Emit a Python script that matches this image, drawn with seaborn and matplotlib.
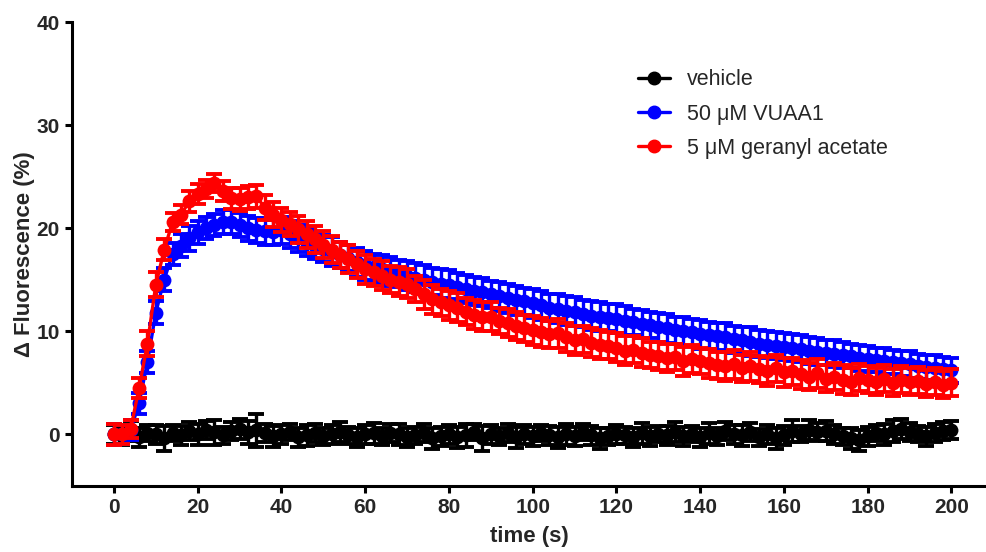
import numpy as np
import pandas as pd
import matplotlib
matplotlib.use("Agg")
import matplotlib.pyplot as plt
import seaborn as sns
from matplotlib.lines import Line2D

time_s = list(range(0, 201, 2))

vehicle_mean = [0.0, -0.2, 0.3, -0.3, 0.1, 0.0, -0.4, 0.1, -0.1, 0.3,
                0.0, 0.4, 0.2, -0.1, 0.3, 0.5, 0.2, 0.4, 0.1, -0.2,
                0.0, 0.2, -0.3, -0.1, 0.1, -0.2, 0.0, 0.2, -0.1, -0.3,
                0.0, 0.1, -0.2, 0.1, 0.0, -0.3, -0.1, 0.1, -0.4, -0.2,
                0.0, -0.3, -0.1, 0.2, -0.4, 0.0, -0.2, 0.1, -0.3, 0.0,
                -0.2, 0.1, -0.1, -0.3, 0.0, -0.2, 0.2, -0.1, -0.4, -0.2,
                0.0, -0.1, -0.3, 0.1, -0.2, 0.0, -0.1, 0.2, -0.2, 0.0,
                -0.3, 0.1, -0.2, 0.3, 0.0, -0.1, 0.2, -0.3, 0.0, -0.4,
                -0.1, 0.3, 0.0, 0.4, 0.2, 0.3, 0.0, -0.2, -0.4, -0.6,
                -0.2, 0.1, 0.0, 0.3, 0.5, 0.2, 0.0, -0.2, 0.1, 0.3, 0.4]
vehicle_sem = [0.9, 0.8, 1.0, 0.9, 0.8, 0.9, 1.2, 0.8, 0.9, 0.9,
               1.0, 0.9, 1.2, 0.8, 0.9, 1.0, 1.1, 1.6, 0.9, 1.0,
               0.9, 0.8, 0.9, 1.0, 0.9, 0.8, 0.9, 1.0, 0.8, 0.9,
               0.9, 1.0, 0.8, 0.9, 1.0, 0.9, 0.8, 0.9, 1.0, 0.9,
               0.9, 1.0, 1.1, 0.8, 1.2, 0.9, 0.8, 0.9, 1.0, 0.9,
               0.9, 0.8, 0.9, 1.0, 1.0, 0.9, 0.8, 0.9, 1.0, 0.8,
               0.9, 0.8, 0.9, 1.0, 0.9, 0.8, 0.9, 1.0, 0.9, 0.8,
               0.9, 1.0, 0.8, 0.9, 0.9, 1.0, 0.9, 0.8, 0.9, 1.0,
               0.9, 1.1, 0.8, 1.0, 0.9, 1.0, 0.9, 0.8, 1.0, 1.0,
               0.9, 0.8, 1.0, 1.1, 1.0, 0.9, 0.8, 0.9, 0.9, 0.9, 0.9]

vuaa1_mean = [0.0, 0.0, 0.4, 3.0, 7.0, 11.8, 15.0, 17.5, 18.3, 19.0,
              19.6, 20.0, 20.3, 20.6, 20.6, 20.3, 20.0, 19.8, 19.7, 19.6,
              19.8, 19.4, 19.0, 18.6, 18.3, 18.0, 17.7, 17.4, 17.1, 16.7,
              16.4, 16.2, 16.0, 15.8, 15.6, 15.4, 15.2, 15.0, 14.8, 14.6,
              14.5, 14.3, 14.1, 13.9, 13.8, 13.6, 13.4, 13.2, 13.0, 12.9,
              12.7, 12.5, 12.3, 12.2, 12.0, 11.9, 11.7, 11.5, 11.4, 11.3,
              11.2, 11.0, 10.9, 10.7, 10.6, 10.4, 10.3, 10.1, 10.0, 9.9,
              9.7, 9.6, 9.5, 9.4, 9.2, 9.1, 9.0, 8.8, 8.7, 8.6,
              8.5, 8.4, 8.3, 8.1, 8.0, 7.9, 7.8, 7.7, 7.6, 7.4,
              7.3, 7.2, 7.1, 7.0, 6.9, 6.8, 6.6, 6.5, 6.4, 6.3, 6.2]
vuaa1_sem = [1.0, 0.9, 1.0, 1.0, 1.1, 1.1, 1.1, 1.1, 1.1, 1.2,
             1.1, 1.1, 1.1, 1.2, 1.2, 1.2, 1.2, 1.2, 1.3, 1.2,
             1.3, 1.3, 1.3, 1.3, 1.3, 1.3, 1.4, 1.3, 1.3, 1.4,
             1.4, 1.3, 1.4, 1.4, 1.3, 1.4, 1.4, 1.4, 1.3, 1.4,
             1.4, 1.3, 1.4, 1.4, 1.4, 1.3, 1.4, 1.4, 1.4, 1.3,
             1.4, 1.4, 1.3, 1.4, 1.4, 1.4, 1.3, 1.4, 1.4, 1.3,
             1.4, 1.4, 1.3, 1.4, 1.3, 1.4, 1.4, 1.3, 1.4, 1.3,
             1.4, 1.3, 1.3, 1.4, 1.3, 1.3, 1.4, 1.3, 1.3, 1.3,
             1.3, 1.3, 1.3, 1.3, 1.3, 1.2, 1.3, 1.3, 1.2, 1.3,
             1.3, 1.2, 1.3, 1.2, 1.2, 1.3, 1.2, 1.2, 1.3, 1.2, 1.2]

geranyl_mean = [0.0, 0.0, 0.5, 4.5, 8.8, 14.5, 17.9, 20.6, 21.3, 22.6,
                23.3, 23.8, 24.4, 23.6, 22.9, 22.8, 23.0, 23.1, 22.0, 21.3,
                20.8, 20.4, 19.9, 19.4, 18.9, 18.4, 17.9, 17.4, 17.0, 16.5,
                16.0, 15.7, 15.4, 15.0, 14.8, 14.6, 14.1, 13.6, 13.1, 12.8,
                12.5, 12.3, 11.9, 11.6, 11.4, 11.4, 11.0, 10.8, 10.5, 10.3,
                10.1, 9.9, 9.7, 9.8, 9.4, 9.1, 9.2, 8.9, 8.7, 8.6,
                8.4, 8.1, 8.2, 7.9, 7.7, 7.6, 7.4, 7.5, 7.1, 7.3,
                7.1, 6.9, 6.7, 6.6, 6.8, 6.4, 6.6, 6.3, 6.1, 6.4,
                6.0, 6.1, 5.8, 5.6, 5.9, 5.4, 5.6, 5.3, 5.1, 5.5,
                5.3, 5.1, 5.4, 5.0, 5.3, 5.1, 5.2, 4.9, 5.1, 4.8, 5.0]
geranyl_sem = [1.0, 0.9, 0.9, 1.0, 1.2, 1.2, 1.0, 0.9, 0.9, 1.0,
               1.0, 0.9, 0.9, 1.0, 1.0, 1.1, 1.1, 1.1, 1.2, 1.2,
               1.2, 1.2, 1.3, 1.3, 1.3, 1.3, 1.3, 1.3, 1.4, 1.3,
               1.4, 1.3, 1.4, 1.3, 1.4, 1.4, 1.3, 1.4, 1.4, 1.3,
               1.4, 1.4, 1.3, 1.4, 1.4, 1.4, 1.3, 1.4, 1.4, 1.3,
               1.4, 1.4, 1.3, 1.4, 1.4, 1.4, 1.3, 1.4, 1.4, 1.3,
               1.4, 1.4, 1.3, 1.4, 1.3, 1.4, 1.4, 1.3, 1.4, 1.4,
               1.3, 1.4, 1.3, 1.4, 1.4, 1.3, 1.4, 1.3, 1.4, 1.3,
               1.4, 1.3, 1.4, 1.3, 1.4, 1.3, 1.3, 1.4, 1.3, 1.3,
               1.3, 1.3, 1.3, 1.3, 1.3, 1.3, 1.3, 1.3, 1.3, 1.3, 1.3]

labels = ["vehicle", "50 \u03bcM VUAA1", "5 \u03bcM geranyl acetate"]
colors = ["#000000", "#0000ff", "#ff0000"]
x_ticks = list(range(0, 201, 20))
y_ticks = [0, 10, 20, 30, 40]

sns.set_style("ticks")
plt.rcParams["font.family"] = ["Liberation Sans", "DejaVu Sans"]

frames = []
for lab, m, s in zip(labels, [vehicle_mean, vuaa1_mean, geranyl_mean],
                     [vehicle_sem, vuaa1_sem, geranyl_sem]):
    frames.append(pd.DataFrame({"time": time_s, "value": m, "sem": s, "group": lab}))
df = pd.concat(frames, ignore_index=True)

fig = plt.figure(figsize=(9.87, 5.52), dpi=100)
ax = fig.add_axes([0.073, 0.12, 0.927, 0.84])

for i, (lab, col) in enumerate(zip(labels, colors)):
    sub = df[df["group"] == lab]
    ax.errorbar(sub["time"], sub["value"], yerr=sub["sem"], fmt="none",
                ecolor=col, elinewidth=2.4, capsize=6, capthick=2.8,
                zorder=2 + i)
    sns.lineplot(data=sub, x="time", y="value", color=col, marker="o",
                 markersize=10, markeredgewidth=0, linewidth=2.4,
                 ax=ax, zorder=2 + i, legend=False)

ax.set_xlim(-10, 208.5)
ax.set_ylim(-5, 40)
ax.set_xticks(x_ticks)
ax.set_yticks(y_ticks)
for sp in ["top", "right"]:
    ax.spines[sp].set_visible(False)
for sp in ["left", "bottom"]:
    ax.spines[sp].set_linewidth(2.2)
    ax.spines[sp].set_color("black")
ax.tick_params(axis="both", width=2.2, length=5, labelsize=15, color="black",
               pad=4)
for t in ax.get_xticklabels() + ax.get_yticklabels():
    t.set_fontweight("bold")
ax.set_xlabel("time (s)", fontsize=16, fontweight="bold", labelpad=6)
ax.set_ylabel("\u0394 Fluorescence (%)", fontsize=16, fontweight="bold", labelpad=1)

handles = [Line2D([0], [0], color=c, marker="o", markersize=9, linewidth=2.4)
           for c in colors]
ax.legend(handles, labels, loc="upper left", bbox_to_anchor=(0.597, 0.94),
          frameon=False, fontsize=15.5, handlelength=1.5, labelspacing=0.62,
          handletextpad=0.8)

fig.savefig("out.png", dpi=100)
